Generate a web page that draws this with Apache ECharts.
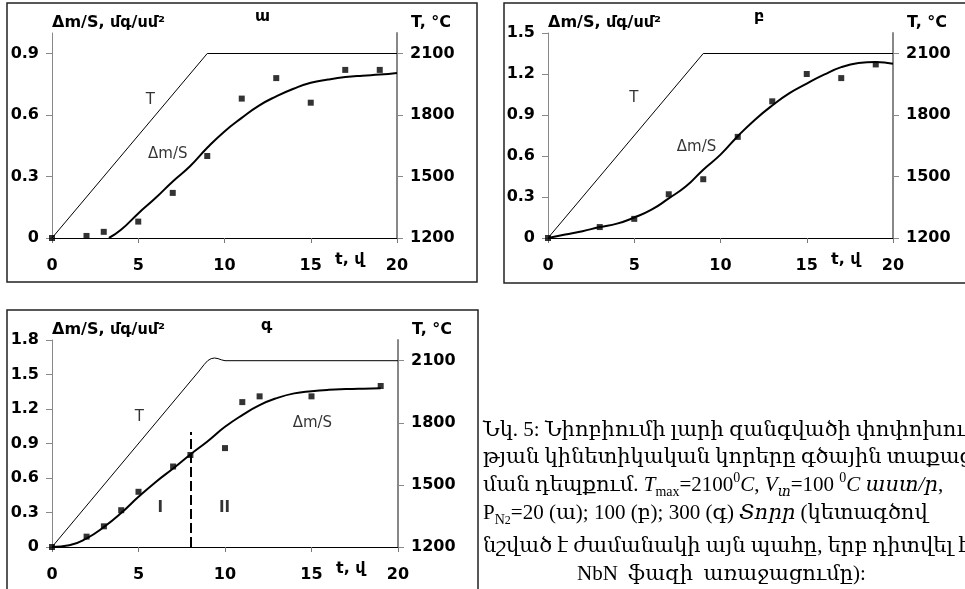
<!DOCTYPE html>
<html>
<head>
<meta charset="utf-8">
<script src="https://cdn.jsdelivr.net/npm/echarts@6/dist/echarts.min.js"></script>
<style>
  html, body { margin: 0; padding: 0; background: #fff; }
  #main { width: 965px; height: 589px; }
</style>
</head>
<body>
<div id="main"></div>
<script>
// axis ticks
const timeTicks = [0, 5, 10, 15, 20];
const tempTicks = [1200, 1500, 1800, 2100];
const dmTicksA = [0, 0.3, 0.6, 0.9];
const dmTicksB = [0, 0.3, 0.6, 0.9, 1.2, 1.5];
const dmTicksC = [0, 0.3, 0.6, 0.9, 1.2, 1.5, 1.8];

// (ա) P=20 Torr
const ptTimeA = [0, 2, 3, 5, 7, 9, 11, 13, 15, 17, 19];
const ptDmA = [0, 0.01, 0.03, 0.08, 0.22, 0.40, 0.68, 0.78, 0.66, 0.82, 0.82];
const fitTimeA = [3.3, 4, 5, 6, 7, 8, 9, 10, 11, 12, 13, 14, 15, 16, 17, 18, 19, 20];
const fitDmA = [0, 0.04, 0.12, 0.195, 0.276, 0.35, 0.44, 0.52, 0.586, 0.646, 0.691, 0.728, 0.757, 0.773, 0.785, 0.792, 0.797, 0.805];
const tempTimeA = [0, 9, 20];
const tempA = [1200, 2100, 2100];

// (բ) P=100 Torr
const ptTimeB = [0, 3, 5, 7, 9, 11, 13, 15, 17, 19];
const ptDmB = [0, 0.08, 0.14, 0.32, 0.43, 0.74, 1.0, 1.2, 1.17, 1.27];
const fitTimeB = [0, 1, 2, 3, 4, 5, 6, 7, 8, 9, 10, 11, 12, 13, 14, 15, 16, 17, 18, 19, 20];
const fitDmB = [0, 0.025, 0.05, 0.08, 0.105, 0.15, 0.207, 0.29, 0.378, 0.5, 0.61, 0.745, 0.866, 0.97, 1.06, 1.13, 1.195, 1.25, 1.28, 1.288, 1.275];
const tempTimeB = [0, 9, 20];
const tempB = [1200, 2100, 2100];

// (գ) P=300 Torr
const ptTimeC = [0, 2, 3, 4, 5, 7, 8, 10, 11, 12, 15, 19];
const ptDmC = [0, 0.09, 0.18, 0.32, 0.48, 0.70, 0.80, 0.86, 1.26, 1.31, 1.31, 1.40];
const fitTimeC = [0, 1, 2, 3, 4, 5, 6, 7, 8, 9, 10, 11, 12, 13, 14, 15, 16, 17, 18, 19];
const fitDmC = [0, 0.015, 0.075, 0.174, 0.296, 0.436, 0.566, 0.683, 0.805, 0.92, 1.045, 1.147, 1.234, 1.295, 1.336, 1.355, 1.367, 1.373, 1.377, 1.38];
const tempTimeC = [0, 8.5, 8.8, 9.0, 9.2, 9.4, 9.6, 9.8, 10, 20];
const tempC = [1200, 2050, 2082, 2100, 2110, 2113, 2110, 2104, 2100, 2100];
const phaseTime = 8;       // dashed line, NbN appears
const phaseTop = 1.0;

// in-plot labels (time, Δm/S)
const notesA = ['T', 'Δm/S'];
const notePosA = [[5.7, 0.675], [6.71, 0.41]];
const notesB = ['T', 'Δm/S'];
const notePosB = [[4.97, 1.02], [8.61, 0.668]];
const notesC = ['T', 'Δm/S', 'I', 'II'];
const notePosC = [[5.05, 1.13], [15.05, 1.077], [6.26, 0.337], [9.97, 0.337]];

const zip = (xs, ys) => xs.map((x, i) => [x, ys[i]]);

const SANS = 'DejaVu Sans';
const bold = { fontFamily: SANS, fontWeight: 'bold', fontSize: 16, color: '#000' };

function xAxisFor (g) {
  return {
    type: 'value', gridIndex: g, min: 0, max: 20, interval: 5,
    name: 't, վ', nameLocation: 'end', nameGap: -62, nameMoveOverlap: false,
    nameTextStyle: Object.assign({}, bold, { align: 'left', verticalAlign: 'top', padding: [14, 0, 0, 0] }),
    axisLine: { onZero: false, lineStyle: { color: '#000', width: 1 } },
    axisTick: { show: true, length: 5, lineStyle: { color: '#777' } },
    axisLabel: Object.assign({}, bold, { margin: 20 }),
    splitLine: { show: false }
  };
}

function dmAxisFor (g, max, ticks) {
  return {
    type: 'value', gridIndex: g, position: 'left', min: 0, max: max,
    name: 'Δm/S, մգ/սմ²', nameLocation: 'end', nameGap: 10, nameMoveOverlap: false,
    nameTextStyle: Object.assign({}, bold, { align: 'left', verticalAlign: 'middle' }),
    axisLine: { show: true, onZero: false, lineStyle: { color: '#888', width: 1 } },
    axisTick: { show: true, length: 6, customValues: ticks, lineStyle: { color: '#888' } },
    axisLabel: Object.assign({}, bold, {
      margin: 13, customValues: ticks,
      formatter: v => (v === 0 ? '0' : v.toFixed(1))
    }),
    splitLine: { show: false }
  };
}

function tempAxisFor (g) {
  return {
    type: 'value', gridIndex: g, position: 'right', min: 1200, max: 2200,
    name: 'T, °C', nameLocation: 'end', nameGap: 10, nameMoveOverlap: false,
    nameTextStyle: Object.assign({}, bold, { align: 'left', verticalAlign: 'middle', padding: [0, 0, 0, 14] }),
    axisLine: { show: true, onZero: false, lineStyle: { color: '#888', width: 2 } },
    axisTick: { show: true, length: 6, customValues: tempTicks, lineStyle: { color: '#888' } },
    axisLabel: Object.assign({}, bold, { margin: 13, customValues: tempTicks, formatter: v => String(v) }),
    splitLine: { show: false }
  };
}

function seriesFor (g, pts, fit, temp, notes, notePos) {
  return [
    {
      type: 'line', xAxisIndex: g, yAxisIndex: g * 2 + 1, data: temp,
      showSymbol: false, lineStyle: { color: '#000', width: 1 }, silent: true
    },
    {
      type: 'line', xAxisIndex: g, yAxisIndex: g * 2, data: fit, smooth: true,
      showSymbol: false, lineStyle: { color: '#000', width: 2 }, silent: true
    },
    {
      type: 'scatter', xAxisIndex: g, yAxisIndex: g * 2, data: pts,
      symbol: 'rect', symbolSize: 6, itemStyle: { color: '#000' }, silent: true
    },
    {
      type: 'scatter', xAxisIndex: g, yAxisIndex: g * 2, silent: true,
      data: notes.map((n, i) => ({ name: n, value: notePos[i] })),
      symbolSize: 1, itemStyle: { color: 'rgba(0,0,0,0)' },
      label: {
        show: true, position: 'inside', formatter: '{b}', color: '#000',
        fontFamily: SANS, fontSize: 15,
        rich: { b: { fontFamily: SANS, fontSize: 15, fontWeight: 'bold', color: '#000' } }
      }
    }
  ];
}

var myChart = echarts.init(document.getElementById('main'));

// roman numerals in (գ) are bold
const notesCData = notesC.map(n => (n === 'I' || n === 'II') ? '{b|' + n + '}' : n);

const seriesA = seriesFor(0, zip(ptTimeA, ptDmA), zip(fitTimeA, fitDmA), zip(tempTimeA, tempA), notesA, notePosA);
const seriesB = seriesFor(1, zip(ptTimeB, ptDmB), zip(fitTimeB, fitDmB), zip(tempTimeB, tempB), notesB, notePosB);
const seriesC = seriesFor(2, zip(ptTimeC, ptDmC), zip(fitTimeC, fitDmC), zip(tempTimeC, tempC), notesCData, notePosC);
seriesC[1].markLine = {
  silent: true, symbol: 'none', label: { show: false },
  lineStyle: { color: '#000', width: 2, type: [10, 4] },
  data: [[{ coord: [phaseTime, 0] }, { coord: [phaseTime, phaseTop] }]]
};

const SERIF = '"Liberation Serif", "DejaVu Serif", serif';
const capRich = {
  i: { fontStyle: 'italic', fontFamily: SERIF, fontSize: 21, lineHeight: 28 },
  sub: { fontFamily: SERIF, fontSize: 14, verticalAlign: 'bottom', lineHeight: 28 },
  isub: { fontStyle: 'italic', fontFamily: SERIF, fontSize: 14, verticalAlign: 'bottom', lineHeight: 28 },
  sub2: { fontFamily: SERIF, fontSize: 12, verticalAlign: 'bottom', lineHeight: 26 },
  sup: { fontFamily: SERIF, fontSize: 14, verticalAlign: 'top', lineHeight: 28 }
};
const captionLines = [
  'Նկ. 5: Նիոբիումի լարի զանգվածի փոփոխու-',
  'թյան կինետիկական կորերը գծային տաքաց-',
  'ման դեպքում. {i|T}{sub|max}=2100{sup|0}{i|C}, {i|V}{isub|տ}=100 {sup|0}{i|C աստ/ր},',
  'P{sub|N}{sub2|2}=20 (ա); 100 (բ); 300 (գ) {i|Տորր} (կետագծով',
  'նշված է ժամանակի այն պահը, երբ դիտվել է',
  'NbN  ֆազի  առաջացումը):'
];
const captionX = [483, 483, 483, 483, 483, 577];
const captionY = [430, 457, 485, 513, 546, 574];

var option = {
  animation: false,
  backgroundColor: '#fff',
  title: [
    { text: 'ա', left: 255, top: 9, padding: 0, textStyle: bold },
    { text: 'բ', left: 754, top: 9, padding: 0, textStyle: bold },
    { text: 'գ', left: 261, top: 318, padding: 0, textStyle: bold }
  ],
  grid: [
    { left: 52, top: 33, width: 345, height: 205 },
    { left: 548, top: 33, width: 345, height: 205 },
    { left: 52, top: 340, width: 346, height: 207 }
  ],
  xAxis: [xAxisFor(0), xAxisFor(1), xAxisFor(2)],
  yAxis: [
    dmAxisFor(0, 1.0, dmTicksA), tempAxisFor(0),
    dmAxisFor(1, 1.5, dmTicksB), tempAxisFor(1),
    dmAxisFor(2, 1.8, dmTicksC), tempAxisFor(2)
  ],
  series: seriesA.concat(seriesB, seriesC),
  graphic: [
    { type: 'rect', silent: true, shape: { x: 7, y: 3, width: 470, height: 279 }, style: { fill: 'none', stroke: '#222', lineWidth: 1.5 } },
    { type: 'rect', silent: true, shape: { x: 504, y: 3, width: 470, height: 280 }, style: { fill: 'none', stroke: '#222', lineWidth: 1.5 } },
    { type: 'rect', silent: true, shape: { x: 7, y: 310, width: 471, height: 290 }, style: { fill: 'none', stroke: '#222', lineWidth: 1.5 } }
  ].concat(captionLines.map((t, i) => ({
    type: 'text', silent: true, x: captionX[i], y: captionY[i],
    style: {
      text: t, fill: '#000', fontFamily: SERIF, fontSize: 21, lineHeight: 28,
      verticalAlign: 'middle', rich: capRich
    }
  })))
};

myChart.setOption(option);
</script>
</body>
</html>
